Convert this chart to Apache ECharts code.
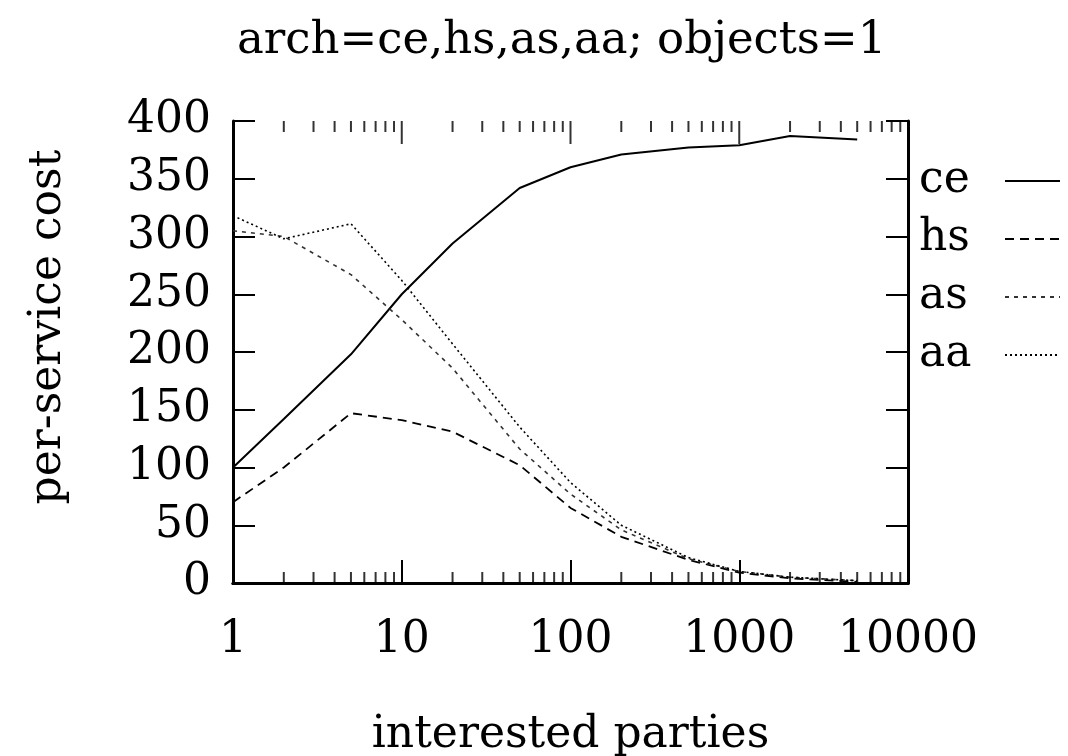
<!DOCTYPE html>
<html>
<head>
<meta charset="utf-8">
<script src="https://cdn.jsdelivr.net/npm/echarts@6/dist/echarts.min.js"></script>
<style>
  html, body { margin: 0; padding: 0; background: #fff; }
  #chart { width: 1068px; height: 756px; }
</style>
</head>
<body>
<div id="chart"></div>
<script>
// interested parties (x, log scale)
var parties = [1, 2, 5, 10, 20, 50, 100, 200, 500, 1000, 2000, 5000];
// per-service cost for each arch
var ceCost = [100, 142, 198, 250, 294, 342, 360, 371, 377, 379, 387, 384];
var hsCost = [70, 100, 147, 141, 131, 102, 65, 40, 20, 9, 4, 1];
var asCost = [305, 300, 267, 228, 186, 116, 77, 46, 21, 10, 5, 2];
var aaCost = [318, 298, 311, 262, 207, 135, 87, 50, 22, 10, 5, 2];
// log minor tick positions (gnuplot style 2..9 per decade)
var minorTicks = [2, 3, 4, 5, 6, 7, 8, 9, 20, 30, 40, 50, 60, 70, 80, 90,
  200, 300, 400, 500, 600, 700, 800, 900, 2000, 3000, 4000, 5000, 6000, 7000, 8000, 9000];
var majorTicks = [10, 100, 1000];

var font = 'DejaVu Serif';

function pairs(ys) {
  var out = [];
  for (var i = 0; i < parties.length; i++) {
    out.push([parties[i], ys[i]]);
  }
  return out;
}

function lineSerie(name, ys, type, width, color) {
  return {
    name: name,
    type: 'line',
    data: pairs(ys),
    symbol: 'none',
    lineStyle: { color: color, width: width, type: type },
    itemStyle: { color: color },
    z: 3
  };
}

function tickSerie(xs, yVal, len, offset) {
  var d = [];
  for (var i = 0; i < xs.length; i++) d.push([xs[i], yVal]);
  return {
    type: 'scatter',
    data: d,
    symbol: 'rect',
    symbolSize: [2, len],
    symbolOffset: [0, offset],
    itemStyle: { color: '#000' },
    silent: true,
    clip: false,
    z: 4
  };
}

var myChart = echarts.init(document.getElementById('chart'));
var option = {
  backgroundColor: '#fff',
  animation: false,
  title: {
    text: 'arch=ce,hs,as,aa; objects=1',
    left: 232,
    top: 14,
    textStyle: { fontFamily: font, fontSize: 45, fontWeight: 'normal', color: '#000' }
  },
  legend: {
    data: ['ce', 'hs', 'as', 'aa'],
    orient: 'vertical',
    left: 914,
    top: 153,
    align: 'right',
    itemWidth: 55,
    itemHeight: 12,
    itemGap: 12,
    itemStyle: { opacity: 0 },
    formatter: function (name) { return '{t|' + name + '}'; },
    textStyle: {
      fontFamily: font, fontSize: 44, color: '#000', lineHeight: 46,
      rich: { t: { fontFamily: font, fontSize: 44, color: '#000', width: 81, align: 'left', lineHeight: 46 } }
    },
    inactiveColor: '#000'
  },
  grid: { left: 233, right: 160, top: 121, bottom: 173, outerBoundsMode: 'none', containLabel: false },
  xAxis: [
    {
      type: 'log',
      logBase: 10,
      min: 1,
      max: 10000,
      name: 'interested parties',
      nameLocation: 'middle',
      nameGap: 131,
      nameTextStyle: { fontFamily: font, fontSize: 44, color: '#000' },
      axisLine: { show: true, lineStyle: { color: '#000', width: 3 } },
      axisTick: { show: true, inside: true, length: 23, lineStyle: { color: '#000', width: 2 } },
      axisLabel: { fontFamily: font, fontSize: 44, color: '#000', margin: 36, formatter: function (v) { return String(v); } },
      splitLine: { show: false }
    },
    {
      type: 'log',
      logBase: 10,
      min: 1,
      max: 10000,
      position: 'top',
      axisLine: { show: true, lineStyle: { color: '#000', width: 3 } },
      axisTick: { show: false },
      axisLabel: { show: false },
      splitLine: { show: false }
    }
  ],
  yAxis: [
    {
      type: 'value',
      min: 0,
      max: 400,
      interval: 50,
      name: 'per-service cost',
      nameLocation: 'middle',
      nameGap: 162,
      nameTextStyle: { fontFamily: font, fontSize: 44, color: '#000', padding: [0, 0, 0, 50] },
      axisLine: { show: true, lineStyle: { color: '#000', width: 3 } },
      axisTick: { show: true, inside: true, length: 22, lineStyle: { color: '#000', width: 2 } },
      axisLabel: { fontFamily: font, fontSize: 44, color: '#000', margin: 22 },
      splitLine: { show: false }
    },
    {
      type: 'value',
      min: 0,
      max: 400,
      interval: 50,
      position: 'right',
      axisLine: { show: true, lineStyle: { color: '#000', width: 3 } },
      axisTick: { show: true, inside: true, length: 22, lineStyle: { color: '#000', width: 2 } },
      axisLabel: { show: false },
      splitLine: { show: false }
    }
  ],
  series: [
    lineSerie('ce', ceCost, 'solid', 2, '#000'),
    lineSerie('hs', hsCost, [9, 6], 1.8, '#000'),
    lineSerie('as', asCost, [4, 5], 1.6, '#333'),
    lineSerie('aa', aaCost, [2, 3], 1.6, '#000'),
    tickSerie(minorTicks, 0, 11, -5.5),
    tickSerie(minorTicks, 400, 11, 5.5),
    tickSerie(majorTicks, 400, 23, 11.5)
  ]
};
myChart.setOption(option);
</script>
</body>
</html>
